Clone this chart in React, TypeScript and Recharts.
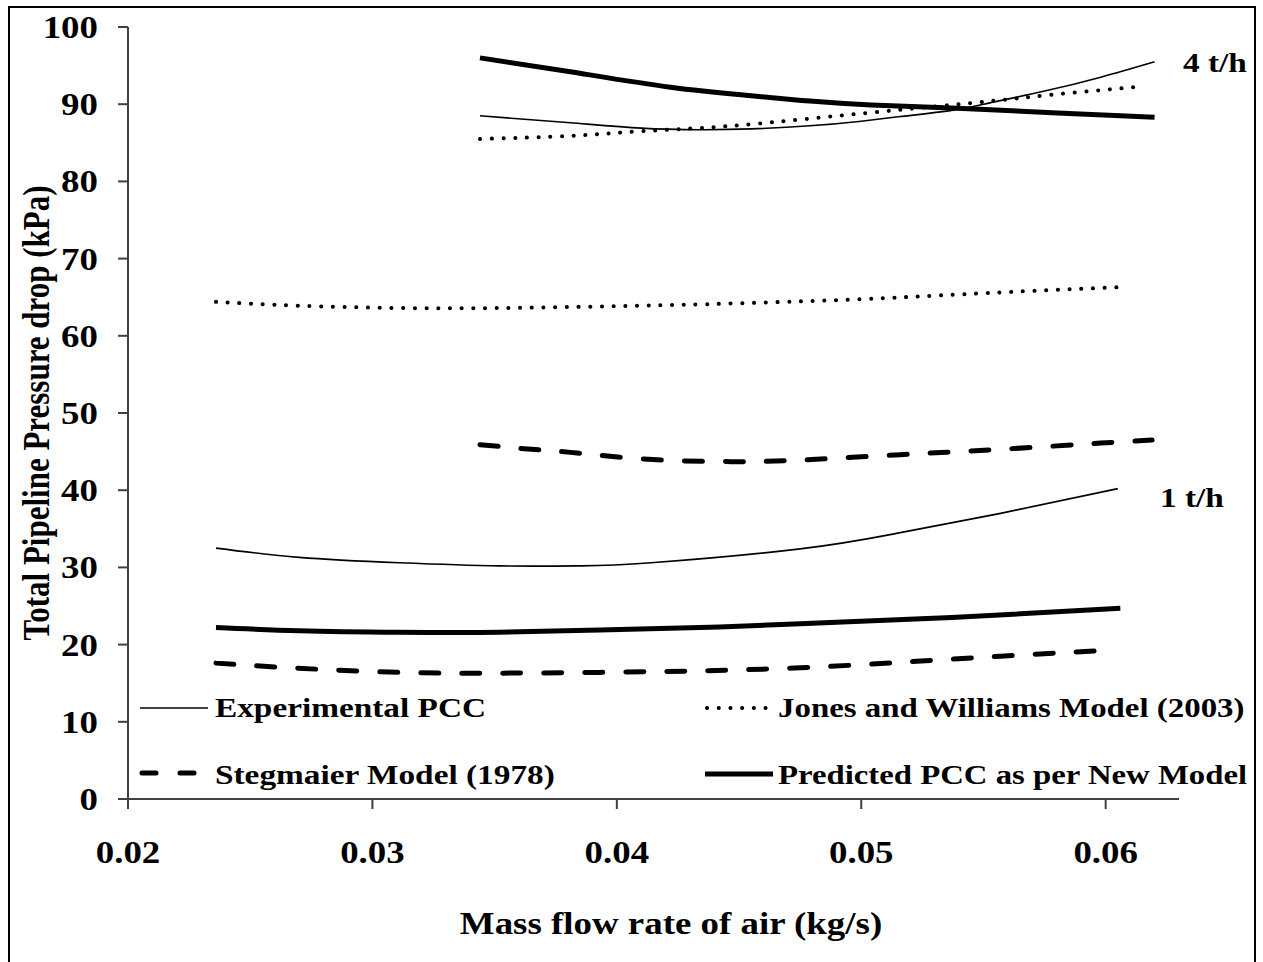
import React from "react";
import { LineChart, Line, XAxis, YAxis } from "recharts";

const W = 1263;
const H = 962;
const FONT = "'Liberation Serif', 'Times New Roman', serif";
const SX = 1.19;

// X ticks / Y ticks
const xTicks = [0.02, 0.03, 0.04, 0.05, 0.06];
const yTicks = [0, 10, 20, 30, 40, 50, 60, 70, 80, 90, 100];

// 1 t/h series
const exp1X = [0.0236, 0.027, 0.0311, 0.0352, 0.0385, 0.0414, 0.0475, 0.0516, 0.0557, 0.0605];
const exp1Y = [32.5, 31.3, 30.6, 30.2, 30.2, 30.6, 32.4, 34.5, 37.0, 40.2];

const jones1X = [0.0236, 0.027, 0.0311, 0.0352, 0.0393, 0.0437, 0.0488, 0.0524, 0.0562, 0.0606];
const jones1Y = [64.4, 63.9, 63.6, 63.6, 63.8, 64.1, 64.6, 65.1, 65.7, 66.3];

const steg1X = [0.0236, 0.0266, 0.0311, 0.0352, 0.0393, 0.0434, 0.0475, 0.0516, 0.0557, 0.0603];
const steg1Y = [17.6, 17.0, 16.4, 16.3, 16.4, 16.6, 17.0, 17.7, 18.5, 19.3];

const pred1X = [0.0236, 0.027, 0.0311, 0.0352, 0.0393, 0.0434, 0.0475, 0.0537, 0.0606];
const pred1Y = [22.2, 21.8, 21.6, 21.6, 21.9, 22.2, 22.7, 23.5, 24.7];

// 4 t/h series
const exp4X = [0.0344, 0.0381, 0.041, 0.0434, 0.0455, 0.0479, 0.05, 0.0516, 0.0537, 0.0553, 0.0575, 0.0598, 0.062];
const exp4Y = [88.5, 87.6, 86.9, 86.7, 86.8, 87.2, 87.8, 88.4, 89.2, 90.2, 91.7, 93.5, 95.5];

const jones4X = [0.0344, 0.0381, 0.041, 0.0443, 0.0481, 0.052, 0.0553, 0.0577, 0.0601, 0.0615];
const jones4Y = [85.5, 85.9, 86.5, 87.1, 88.2, 89.4, 90.4, 91.2, 91.9, 92.3];

const steg4X = [0.0344, 0.0365, 0.0381, 0.0413, 0.0447, 0.0475, 0.0516, 0.0557, 0.0598, 0.0619];
const steg4Y = [45.9, 45.3, 44.9, 44.0, 43.7, 43.9, 44.6, 45.3, 46.1, 46.5];

const pred4X = [0.0344, 0.0381, 0.0422, 0.0455, 0.0479, 0.0504, 0.0537, 0.0578, 0.062];
const pred4Y = [96.0, 94.2, 92.2, 91.1, 90.4, 89.9, 89.5, 88.9, 88.3];

const pairs = (xs: number[], ys: number[]) => xs.map((x, i) => ({ x, y: ys[i] }));

const exp1 = pairs(exp1X, exp1Y);
const jones1 = pairs(jones1X, jones1Y);
const steg1 = pairs(steg1X, steg1Y);
const pred1 = pairs(pred1X, pred1Y);
const exp4 = pairs(exp4X, exp4Y);
const jones4 = pairs(jones4X, jones4Y);
const steg4 = pairs(steg4X, steg4Y);
const pred4 = pairs(pred4X, pred4Y);

const legendNames = [
  "Experimental PCC",
  "Jones and Williams Model (2003)",
  "Stegmaier Model (1978)",
  "Predicted PCC as per New Model",
];

const expStyle = { stroke: "#000", strokeWidth: 1.6 };
const jonesStyle = { stroke: "#000", strokeWidth: 4, strokeDasharray: "0.1 11.6", strokeLinecap: "round" as const };
const stegStyle = { stroke: "#000", strokeWidth: 5, strokeDasharray: "18 23", strokeLinecap: "round" as const };
const predStyle = { stroke: "#000", strokeWidth: 5 };

const textStyle = { fontFamily: FONT, fontWeight: 700, fill: "#000" };

const XTick = (props: any) => {
  const { x, y, payload } = props;
  return (
    <g transform={`translate(${x},${y + 52}) scale(${SX},1)`}>
      <text x={0} y={0} textAnchor="middle" fontSize={31} {...textStyle}>
        {Number(payload.value).toFixed(2)}
      </text>
    </g>
  );
};

const YTick = (props: any) => {
  const { x, y, payload } = props;
  return (
    <g transform={`translate(${x - 18},${y + 11}) scale(${SX},1)`}>
      <text x={0} y={0} textAnchor="end" fontSize={31} {...textStyle}>
        {payload.value}
      </text>
    </g>
  );
};

const Label = ({ x, y, size, children, anchor = "start", sx = SX }: any) => (
  <g transform={`translate(${x},${y}) scale(${sx},1)`}>
    <text x={0} y={0} textAnchor={anchor} fontSize={size} {...textStyle}>
      {children}
    </text>
  </g>
);

const Overlay = () => (
  <svg width={W} height={H} style={{ position: "absolute", left: 0, top: 0, pointerEvents: "none" }}>
    <rect x={9} y={7} width={1246} height={980} fill="none" stroke="#000" strokeWidth={2} />
    {/* legend */}
    <line x1={140} y1={708} x2={208} y2={708} {...expStyle} />
    <Label x={215} y={717} size={28}>{legendNames[0]}</Label>
    <line x1={707} y1={708} x2={772} y2={708} {...jonesStyle} />
    <Label x={778} y={717} size={28} sx={1.175}>{legendNames[1]}</Label>
    <line x1={142} y1={773} x2={205} y2={773} {...stegStyle} strokeDasharray="14 24" />
    <Label x={215} y={784} size={28}>{legendNames[2]}</Label>
    <line x1={705} y1={774} x2={773} y2={774} {...predStyle} />
    <Label x={778} y={784} size={28} sx={1.17}>{legendNames[3]}</Label>
    {/* series group labels */}
    <Label x={1183} y={72} size={28}>4 t/h</Label>
    <Label x={1160} y={507} size={28}>1 t/h</Label>
    {/* axis titles */}
    <Label x={671} y={934} size={31} anchor="middle">Mass flow rate of air (kg/s)</Label>
    <g transform={`translate(49,413) rotate(-90) scale(1,${SX})`}>
      <text x={0} y={0} textAnchor="middle" fontSize={31} {...textStyle}>
        Total Pipeline Pressure drop (kPa)
      </text>
    </g>
  </svg>
);

export default function App() {
  return (
    <div style={{ position: "absolute", left: 0, top: 0, width: W, height: H, background: "#fff", overflow: "hidden" }}>
      <LineChart width={W} height={H} margin={{ top: 27, right: 84, bottom: 0, left: 0 }}>
        <XAxis
          dataKey="x"
          type="number"
          domain={[0.02, 0.063]}
          ticks={xTicks}
          allowDataOverflow
          height={163}
          tickSize={10}
          tick={<XTick />}
          axisLine={{ stroke: "#404040", strokeWidth: 2 }}
          tickLine={{ stroke: "#404040", strokeWidth: 2 }}
        />
        <YAxis
          type="number"
          domain={[0, 100]}
          ticks={yTicks}
          width={128}
          tickSize={10}
          tick={<YTick />}
          axisLine={{ stroke: "#404040", strokeWidth: 2 }}
          tickLine={{ stroke: "#404040", strokeWidth: 2 }}
        />
        <Line data={exp1} dataKey="y" type="natural" dot={false} isAnimationActive={false} {...expStyle} />
        <Line data={jones1} dataKey="y" type="natural" dot={false} isAnimationActive={false} {...jonesStyle} />
        <Line data={steg1} dataKey="y" type="natural" dot={false} isAnimationActive={false} {...stegStyle} />
        <Line data={pred1} dataKey="y" type="natural" dot={false} isAnimationActive={false} {...predStyle} />
        <Line data={exp4} dataKey="y" type="natural" dot={false} isAnimationActive={false} {...expStyle} />
        <Line data={jones4} dataKey="y" type="natural" dot={false} isAnimationActive={false} {...jonesStyle} />
        <Line data={steg4} dataKey="y" type="natural" dot={false} isAnimationActive={false} {...stegStyle} />
        <Line data={pred4} dataKey="y" type="natural" dot={false} isAnimationActive={false} {...predStyle} />
      </LineChart>
      <Overlay />
    </div>
  );
}
